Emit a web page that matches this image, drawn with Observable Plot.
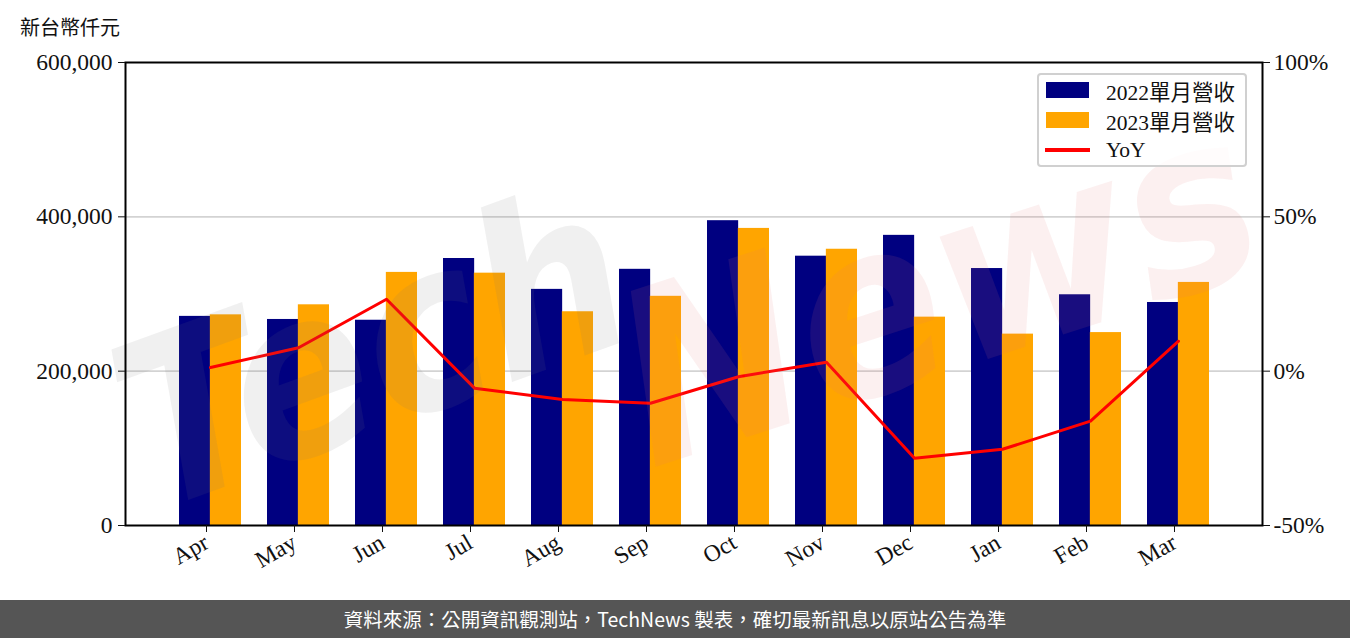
<!DOCTYPE html>
<html>
<head>
<meta charset="utf-8">
<script src="https://cdn.jsdelivr.net/npm/d3@7"></script>
<script src="https://cdn.jsdelivr.net/npm/@observablehq/plot@0.6"></script>
<style>
  html, body { margin: 0; padding: 0; background: #fff; }
  #wrap { position: relative; width: 1350px; height: 638px; overflow: hidden; }
  #unit { position: absolute; left: 20px; top: 12px; font: 20px "Noto Sans CJK TC", "Noto Sans", sans-serif; color: #111; }
  #chart { position: absolute; left: 0; top: 50px; }
  #legend { position: absolute; left: 1037px; top: 73px; width: 206px; height: 90px;
            border: 2px solid #d0d0d0; border-radius: 4px; background: rgba(255,255,255,0.8);
            font: 21.5px "Liberation Serif", "Noto Sans CJK TC", serif; color: #111; }
  .row { position: absolute; left: 0; height: 28px; display: flex; align-items: center; }
  .sw { position: absolute; left: 7px; width: 43px; height: 16px; }
  .ln { position: absolute; left: 6px; width: 45px; height: 4px; background: red; }
  .lab { position: absolute; left: 67px; white-space: nowrap; }
  #footer { position: absolute; left: 0; top: 600px; width: 1350px; height: 38px; background: #555555;
            color: #fff; font: 19.5px "Noto Sans CJK TC", "Noto Sans", sans-serif; text-align: center; line-height: 38px; }
</style>
</head>
<body>
<div id="wrap">
  <div id="unit">新台幣仟元</div>
  <div id="chart"></div>
  <div id="legend"></div>
  <div id="footer"></div>
</div>
<script>
// ---- data ----
const months = ["Apr", "May", "Jun", "Jul", "Aug", "Sep", "Oct", "Nov", "Dec", "Jan", "Feb", "Mar"];
const rev2022 = [271000, 267000, 266000, 346000, 306000, 332000, 395000, 349000, 376000, 333000, 299000, 289000];
const rev2023 = [273000, 286000, 328000, 327000, 277000, 297000, 385000, 358000, 270000, 248000, 250000, 315000];
const yoyPct = [1.2, 7.6, 23.3, -5.5, -9.2, -10.4, -1.8, 2.9, -28.2, -25.3, -16.2, 9.7];
const leftTicks = [0, 200000, 400000, 600000];
const rightTickLabels = ["-50%", "0%", "50%", "100%"];
const gridTicks = [200000, 400000];
const seriesNames = ["2022單月營收", "2023單月營收", "YoY"];
const seriesColors = ["#000080", "#FFA500", "#FF0000"];
const unitLabel = "新台幣仟元";
const footerText = "資料來源：公開資訊觀測站，TechNews 製表，確切最新訊息以原站公告為準";

// right axis (-50%..100%) mapped onto left axis (0..600000)
const yoyToLeft = p => (p + 50) / 150 * 600000;

const table = months.map((m, i) => ({ month: m, a: rev2022[i], b: rev2023[i], yoy: yoyPct[i] }));

const W = 1350, H = 550;
const marginLeft = 125, marginRight = 88, marginTop = 12, marginBottom = 75;
const n = months.length, pIn = 0.3, pOut = 0.6;
const step = (W - marginLeft - marginRight) / (n - pIn + 2 * pOut);
const half = step * (1 - pIn) / 2;

const serif = "Liberation Serif, DejaVu Serif, serif";
const fs = 23.5;

const chart = Plot.plot({
  width: W, height: H,
  marginLeft, marginRight, marginTop, marginBottom,
  style: { fontFamily: serif, fontSize: fs + "px", color: "#111", background: "transparent", overflow: "visible" },
  x: { type: "band", domain: months, paddingInner: pIn, paddingOuter: pOut, label: null },
  y: { domain: [0, 600000], label: null },
  marks: [
    Plot.gridY(gridTicks, { stroke: "#d3d3d3", strokeOpacity: 1, strokeWidth: 1.6 }),
    Plot.barY(table, { x: "month", y: "a", fill: seriesColors[0], insetRight: half, insetLeft: 0 }),
    Plot.barY(table, { x: "month", y: "b", fill: seriesColors[1], insetLeft: half, insetRight: 0 }),
    Plot.line(table, { x: "month", y: d => yoyToLeft(d.yoy), stroke: seriesColors[2], strokeWidth: 3, curve: "linear" }),
    Plot.text(["Tech"], { frameAnchor: "middle", text: d => d, dx: -320, dy: 60, rotate: -20,
      fontSize: 230, fontWeight: "bold", fontStyle: "italic", fontFamily: "DejaVu Sans Condensed, DejaVu Sans, sans-serif",
      fill: "#7a7a7a", fillOpacity: 0.11 }),
    Plot.text(["News"], { frameAnchor: "middle", text: d => d, dx: 245, dy: 0, rotate: -18,
      fontSize: 240, fontWeight: "bold", fontStyle: "italic", fontFamily: "DejaVu Sans Condensed, DejaVu Sans, sans-serif",
      fill: "#e07a7a", fillOpacity: 0.11 }),
    Plot.frame({ stroke: "#000", strokeWidth: 2 }),
    Plot.axisY({ anchor: "left", ticks: leftTicks, tickFormat: d3.format(","), tickSize: 7, tickPadding: 6, label: null, fontSize: fs }),
    Plot.axisY({ anchor: "right", ticks: leftTicks, tickFormat: d => rightTickLabels[leftTicks.indexOf(d)], tickSize: 7, tickPadding: 4, label: null, fontSize: fs }),
    Plot.axisX({ anchor: "bottom", tickSize: 7, tickPadding: 8, tickRotate: -30, dx: -4, label: null, fontSize: fs })
  ]
});
document.getElementById("chart").appendChild(chart);

// legend
const lg = document.getElementById("legend");
seriesNames.forEach((name, i) => {
  const row = document.createElement("div");
  row.className = "row";
  row.style.top = (1 + i * 30) + "px";
  row.style.width = "206px";
  const sw = document.createElement("div");
  if (i < 2) { sw.className = "sw"; sw.style.background = seriesColors[i]; }
  else { sw.className = "ln"; }
  const lab = document.createElement("div");
  lab.className = "lab";
  lab.textContent = name;
  row.appendChild(sw); row.appendChild(lab);
  lg.appendChild(row);
});
document.getElementById("unit").textContent = unitLabel;
document.getElementById("footer").textContent = footerText;
</script>
</body>
</html>
